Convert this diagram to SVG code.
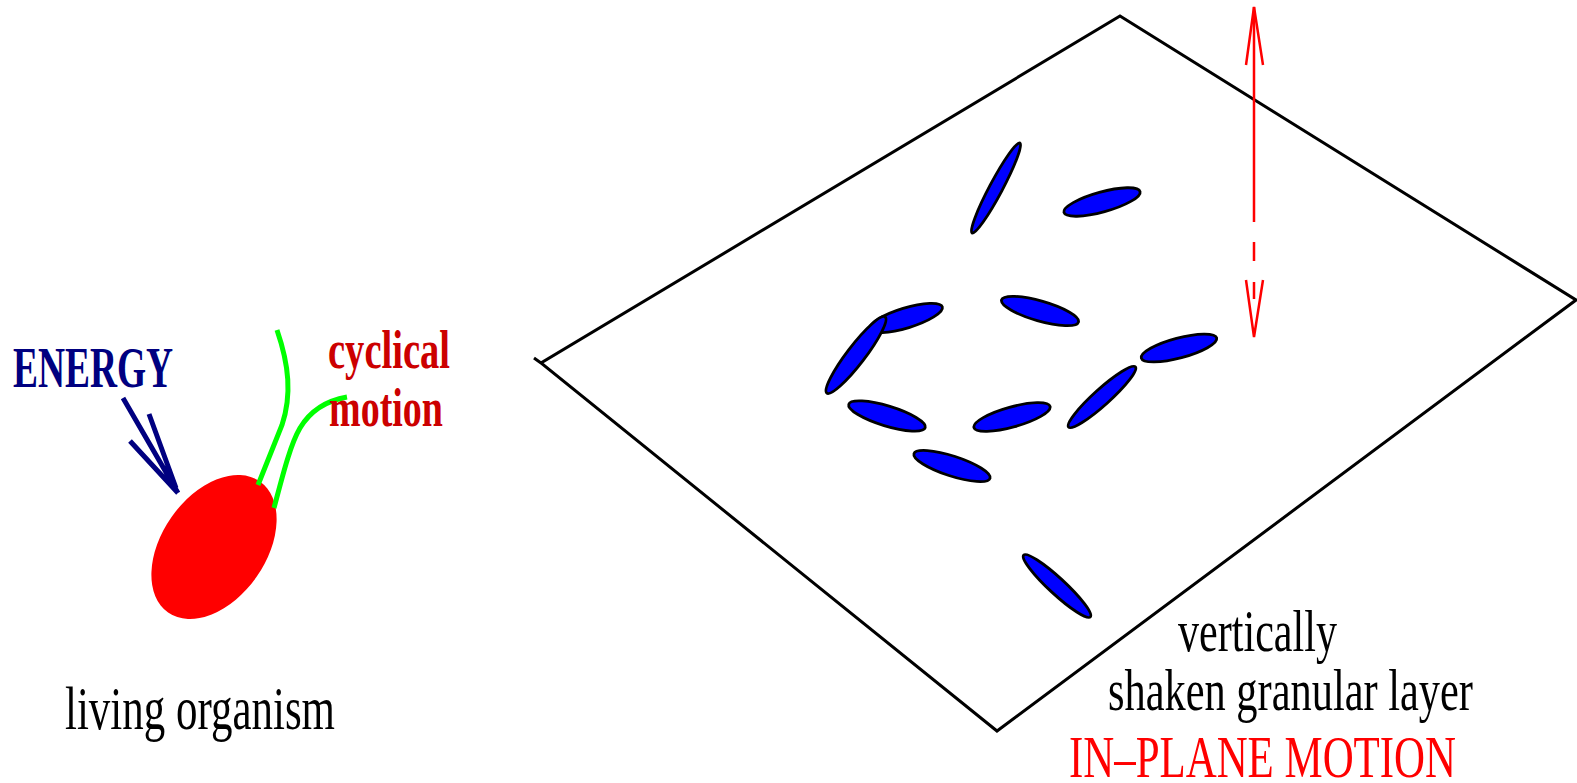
<svg xmlns="http://www.w3.org/2000/svg" width="1577" height="783" viewBox="0 0 1577 783">
  <style>
    .lbl { font-family: "Liberation Serif", "Times New Roman", serif; }
    .grain { fill: #0000ff; stroke: #000; stroke-width: 2.8; }
    .plane { fill: none; stroke: #000; stroke-width: 3; stroke-linejoin: miter; }
    .shake { fill: none; stroke: #ff0000; stroke-width: 2.5; }
    .flag { fill: none; stroke: #00ff00; stroke-width: 5; }
    .energy { fill: none; stroke: #000080; stroke-width: 5; }
  </style>
  <rect width="1577" height="783" fill="#fff"/>

  <!-- living organism -->
  <g id="organism">
    <ellipse cx="214" cy="547" rx="80" ry="52" transform="rotate(-55 214 547)" fill="#ff0000"/>
    <path class="flag" d="M277 330 C289 365 292 395 282 425 L258 485"/>
    <path class="flag" d="M274 508 C282 478 290 445 300 428 C312 408 330 400 347 397"/>
  </g>

  <g id="energy-arrow">
    <path class="energy" d="M123 398 L178 493 M149 414 L176 488 M130 441 L178 493"/>
  </g>

  <g id="labels-left" class="lbl">
    <text x="13" y="387" font-size="57" font-weight="bold" fill="#000080" textLength="160" lengthAdjust="spacingAndGlyphs">ENERGY</text>
    <text x="328" y="368" font-size="55" font-weight="bold" fill="#cc0000" textLength="122" lengthAdjust="spacingAndGlyphs">cyclical</text>
    <text x="329" y="426" font-size="55" font-weight="bold" fill="#cc0000" textLength="114" lengthAdjust="spacingAndGlyphs">motion</text>
    <text x="65" y="729" font-size="62" fill="#000" textLength="270" lengthAdjust="spacingAndGlyphs">living organism</text>
  </g>

  <!-- shaken layer -->
  <g id="plane">
    <path class="plane" d="M1120 16 L1576 300 L997 731 L541 363 Z M541 363 L534 358"/>
  </g>

  <g id="grains">
    <ellipse class="grain" cx="996" cy="188" rx="51" ry="6.5" transform="rotate(-62 996 188)"/>
    <ellipse class="grain" cx="1102" cy="202" rx="39.5" ry="10" transform="rotate(-15.4 1102 202)"/>
    <ellipse class="grain" cx="906" cy="318" rx="38" ry="10" transform="rotate(-17 906 318)"/>
    <ellipse class="grain" cx="856" cy="355" rx="48" ry="9" transform="rotate(-52.6 856 355)"/>
    <ellipse class="grain" cx="1040" cy="311" rx="40" ry="10" transform="rotate(16 1040 311)"/>
    <ellipse class="grain" cx="1179" cy="348" rx="39" ry="10" transform="rotate(-15 1179 348)"/>
    <ellipse class="grain" cx="1102" cy="397" rx="45" ry="8" transform="rotate(-42 1102 397)"/>
    <ellipse class="grain" cx="887" cy="416" rx="40" ry="10" transform="rotate(17 887 416)"/>
    <ellipse class="grain" cx="1012" cy="417" rx="39.5" ry="10" transform="rotate(-15.5 1012 417)"/>
    <ellipse class="grain" cx="952" cy="466" rx="40" ry="10" transform="rotate(18 952 466)"/>
    <ellipse class="grain" cx="1057" cy="586" rx="45.5" ry="8" transform="rotate(42.8 1057 586)"/>
  </g>

  <g id="connectors">
    <path class="shake" d="M1254 7 L1254 222 M1254 242 L1254 261 M1254 282 L1254 299"/>
    <path class="shake" d="M1246 65 L1254 7 L1263 65"/>
    <path class="shake" d="M1246 280 L1254 337 L1263 280"/>
  </g>

  <g id="labels-right" class="lbl">
    <text x="1178" y="651" font-size="59" fill="#000" textLength="159" lengthAdjust="spacingAndGlyphs">vertically</text>
    <text x="1108" y="710" font-size="60" fill="#000" textLength="365" lengthAdjust="spacingAndGlyphs">shaken granular layer</text>
    <text x="1069" y="777" font-size="60" fill="#ff0000" textLength="387" lengthAdjust="spacingAndGlyphs">IN–PLANE MOTION</text>
  </g>
</svg>
